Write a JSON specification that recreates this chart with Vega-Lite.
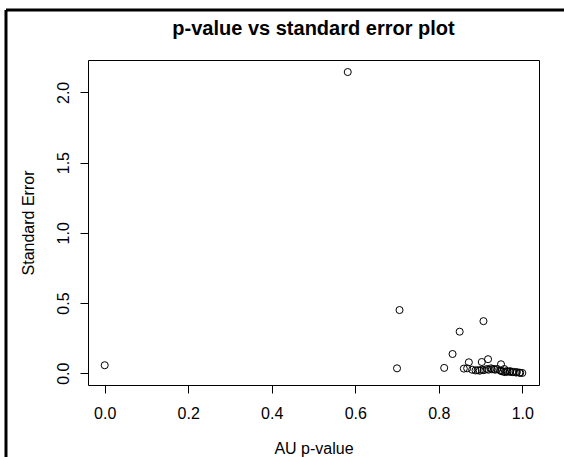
{
  "$schema": "https://vega.github.io/schema/vega-lite/v6.json",
  "autosize": {"type": "none"},
  "width": 451,
  "height": 325,
  "padding": {"left": 88, "top": 60, "right": 25, "bottom": 72},
  "background": "white",
  "config": {
    "font": "Liberation Sans",
    "view": {"stroke": "#000000", "strokeWidth": 1},
    "axis": {
      "domain": false,
      "grid": false,
      "ticks": true,
      "tickSize": 8,
      "tickColor": "#000000",
      "tickWidth": 1,
      "labelFont": "Liberation Sans",
      "labelFontSize": 16,
      "labelColor": "#000000",
      "titleFont": "Liberation Sans",
      "titleFontSize": 16,
      "titleFontWeight": "normal",
      "titleColor": "#000000"
    }
  },
  "title": {
    "text": "p-value vs standard error plot",
    "font": "Liberation Sans",
    "fontSize": 20,
    "fontWeight": "bold",
    "color": "#000000",
    "anchor": "middle",
    "frame": "group",
    "baseline": "alphabetic",
    "offset": -47
  },
  "datasets": {
    "pts": [
      {"au": 0.0, "se": 0.057},
      {"au": 0.582, "se": 2.145},
      {"au": 0.706, "se": 0.45},
      {"au": 0.700, "se": 0.035},
      {"au": 0.813, "se": 0.038},
      {"au": 0.833, "se": 0.137},
      {"au": 0.850, "se": 0.296},
      {"au": 0.860, "se": 0.033},
      {"au": 0.872, "se": 0.078},
      {"au": 0.903, "se": 0.080},
      {"au": 0.907, "se": 0.371},
      {"au": 0.918, "se": 0.100},
      {"au": 0.949, "se": 0.064},
      {"au": 0.868, "se": 0.035},
      {"au": 0.880, "se": 0.025},
      {"au": 0.888, "se": 0.020},
      {"au": 0.893, "se": 0.022},
      {"au": 0.898, "se": 0.018},
      {"au": 0.903, "se": 0.025},
      {"au": 0.908, "se": 0.022},
      {"au": 0.915, "se": 0.030},
      {"au": 0.919, "se": 0.025},
      {"au": 0.925, "se": 0.035},
      {"au": 0.927, "se": 0.028},
      {"au": 0.932, "se": 0.030},
      {"au": 0.935, "se": 0.025},
      {"au": 0.940, "se": 0.030},
      {"au": 0.947, "se": 0.020},
      {"au": 0.950, "se": 0.015},
      {"au": 0.954, "se": 0.012},
      {"au": 0.957, "se": 0.030},
      {"au": 0.959, "se": 0.008},
      {"au": 0.962, "se": 0.015},
      {"au": 0.965, "se": 0.012},
      {"au": 0.970, "se": 0.010},
      {"au": 0.971, "se": 0.015},
      {"au": 0.976, "se": 0.008},
      {"au": 0.979, "se": 0.010},
      {"au": 0.985, "se": 0.005},
      {"au": 0.987, "se": 0.008},
      {"au": 0.993, "se": 0.004},
      {"au": 0.995, "se": 0.003},
      {"au": 1.0, "se": 0.002}
    ],
    "frame": [
      {"side": "left", "x1": -0.2364, "x2": -0.2364, "y1": 2.5868, "y2": -0.62},
      {"side": "top", "x1": -0.2364, "x2": 1.12, "y1": 2.5868, "y2": 2.5868}
    ]
  },
  "layer": [
    {
      "data": {"name": "frame"},
      "mark": {"type": "rule", "color": "#000000", "strokeWidth": 3, "clip": false},
      "encoding": {
        "x": {"field": "x1", "type": "quantitative", "scale": {"domain": [-0.04, 1.04], "nice": false, "zero": false}},
        "x2": {"field": "x2"},
        "y": {"field": "y1", "type": "quantitative", "scale": {"domain": [-0.0837, 2.2307], "nice": false, "zero": false}},
        "y2": {"field": "y2"}
      }
    },
    {
      "data": {"name": "pts"},
      "mark": {"type": "point", "shape": "circle", "filled": false, "color": "#000000", "strokeWidth": 1, "size": 50, "opacity": 1},
      "encoding": {
        "x": {
          "field": "au", "type": "quantitative",
          "scale": {"domain": [-0.04, 1.04], "nice": false, "zero": false},
          "axis": {"values": [0, 0.2, 0.4, 0.6, 0.8, 1.0], "format": ".1f", "title": "AU p-value", "labelPadding": 12, "labelBaseline": "top", "titlePadding": 19}
        },
        "y": {
          "field": "se", "type": "quantitative",
          "scale": {"domain": [-0.0837, 2.2307], "nice": false, "zero": false},
          "axis": {"values": [0, 0.5, 1.0, 1.5, 2.0], "format": ".1f", "title": "Standard Error", "labelAngle": -90, "labelAlign": "center", "labelBaseline": "alphabetic", "labelPadding": 12, "titlePadding": 19}
        }
      }
    }
  ]
}
